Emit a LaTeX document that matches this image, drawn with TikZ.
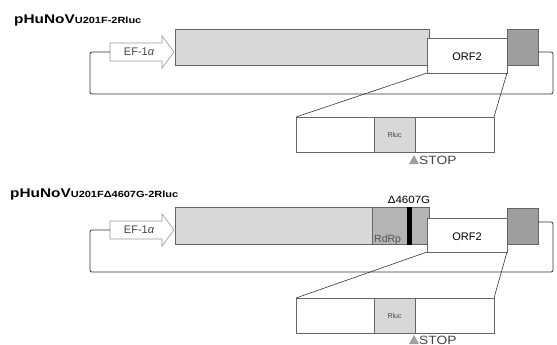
\documentclass[tikz,border=0pt]{standalone}
\usepackage{fontspec}
\setmainfont{Liberation Sans}
\usetikzlibrary{calc}
\definecolor{lightfill}{HTML}{D8D8D8}
\definecolor{darkfill}{HTML}{9E9E9E}
\definecolor{midfill}{HTML}{B4B4B4}
\definecolor{linec}{HTML}{333333}
\definecolor{boxline}{HTML}{666666}
\definecolor{txtgray}{HTML}{444444}
\begin{document}
\begin{tikzpicture}[x=1pt,y=-1pt,
  box/.style={draw=boxline, line width=0.6pt, inner sep=0pt, outer sep=0pt, anchor=north west},
  lightbox/.style={box, fill=lightfill},
  darkbox/.style={box, fill=darkfill},
  whitebox/.style={box, fill=white, font=\fontsize{11}{12}\selectfont},
  loopline/.style={draw=linec, line width=0.8pt, rounded corners=2pt},
  zoomline/.style={draw=linec, line width=0.6pt},
  promoter/.style={draw=gray!80, fill=white, line width=0.6pt},
  titletext/.style={anchor=base west, inner sep=0pt},
  stoptri/.style={fill=gray!75, draw=none},
  stoptext/.style={anchor=base west, inner sep=0pt, text=txtgray, font=\fontsize{12}{13}\selectfont},
  rluctext/.style={text=txtgray, font=\fontsize{7}{8}\selectfont},
  eftext/.style={inner sep=0pt, font=\fontsize{11}{12}\selectfont, text=txtgray}
]
\useasboundingbox (0,0) rectangle (557,345);

% ---------------- top construct ----------------
\node[titletext] (t1) at (14,24) {\scalebox{1.22}[1]{\fontsize{12.6}{14}\selectfont\bfseries pHuNoV\fontsize{9}{10}\selectfont U201F-2Rluc}};

\node[lightbox, minimum width=254, minimum height=36] (g1) at (175,29) {};
\node[whitebox, minimum width=80, minimum height=35] (o1) at (427,38) {};
\node[font=\fontsize{11}{12}\selectfont] (o1t) at ($(o1.center)+(0,1.5)$) {ORF2};
\node[darkbox, minimum width=31, minimum height=36] (d1) at (507,29) {};

\draw[promoter] (110,43) -- (162,43) -- (162,36) -- (174,52) -- (162,68) -- (162,61) -- (110,61) -- cycle;
\node[eftext] (ef1) at (139,52) {EF-1{\itshape α}};
\coordinate (ef1in) at (110,52);
\coordinate (r1out) at (538,52);
\draw[loopline] (ef1in) -- (90,52) -- (90,94) -- (553,94) -- (553,52) -- (r1out);

\node[box, fill=white, minimum width=198, minimum height=35] (lb1) at (296,117) {};
\node[lightbox, minimum width=41, minimum height=35] (rl1) at (374,117) {};
\node[rluctext] (rl1t) at (rl1.center) {Rluc};
\draw[zoomline] (o1.south west) -- (lb1.north west);
\draw[zoomline] (o1.south east) -- (lb1.north east);
\fill[stoptri] (409,164) -- (419,164) -- (414,155) -- cycle;
\node[stoptext] (s1) at (419,164) {\scalebox{1.15}[1]{STOP}};

% ---------------- bottom construct ----------------
\node[titletext] (t2) at (10,197) {\scalebox{1.22}[1]{\fontsize{12.6}{14}\selectfont\bfseries pHuNoV\fontsize{9}{10}\selectfont U201FΔ4607G-2Rluc}};

\node[lightbox, minimum width=254, minimum height=37] (g2) at (175,207) {};
\node[box, fill=midfill, minimum width=57, minimum height=37] (rd2) at (372,207) {};
\node[box, draw=black, fill=black, minimum width=4, minimum height=37] (bar2) at (407,207) {};
\node[anchor=base west, inner sep=0pt, text=gray!65!black, font=\fontsize{10.5}{12}\selectfont] (rd2t) at (374,242) {RdRp};
\node[anchor=base, inner sep=0pt, font=\fontsize{10.5}{12}\selectfont] (del2) at (409,203.5) {\scalebox{1.1}[1]{Δ4607G}};
\node[whitebox, minimum width=80, minimum height=34] (o2) at (427,218) {};
\node[font=\fontsize{11}{12}\selectfont] (o2t) at ($(o2.center)+(0,1.5)$) {ORF2};
\node[darkbox, minimum width=31, minimum height=36] (d2) at (507,208) {};

\draw[promoter] (110,221) -- (162,221) -- (162,214) -- (174,230) -- (162,246) -- (162,239) -- (110,239) -- cycle;
\node[eftext] (ef2) at (139,230) {EF-1{\itshape α}};
\coordinate (ef2in) at (110,230);
\coordinate (r2out) at (538,222);
\draw[loopline] (ef2in) -- (90,230) -- (90,272) -- (553,272) -- (553,222) -- (r2out);

\node[box, fill=white, minimum width=198, minimum height=35] (lb2) at (296,298) {};
\node[lightbox, minimum width=41, minimum height=35] (rl2) at (374,298) {};
\node[rluctext] (rl2t) at (rl2.center) {Rluc};
\draw[zoomline] (o2.south west) -- (lb2.north west);
\draw[zoomline] (o2.south east) -- (lb2.north east);
\fill[stoptri] (409,344) -- (419,344) -- (414,335) -- cycle;
\node[stoptext] (s2) at (419,344) {\scalebox{1.15}[1]{STOP}};
\end{tikzpicture}
\end{document}
